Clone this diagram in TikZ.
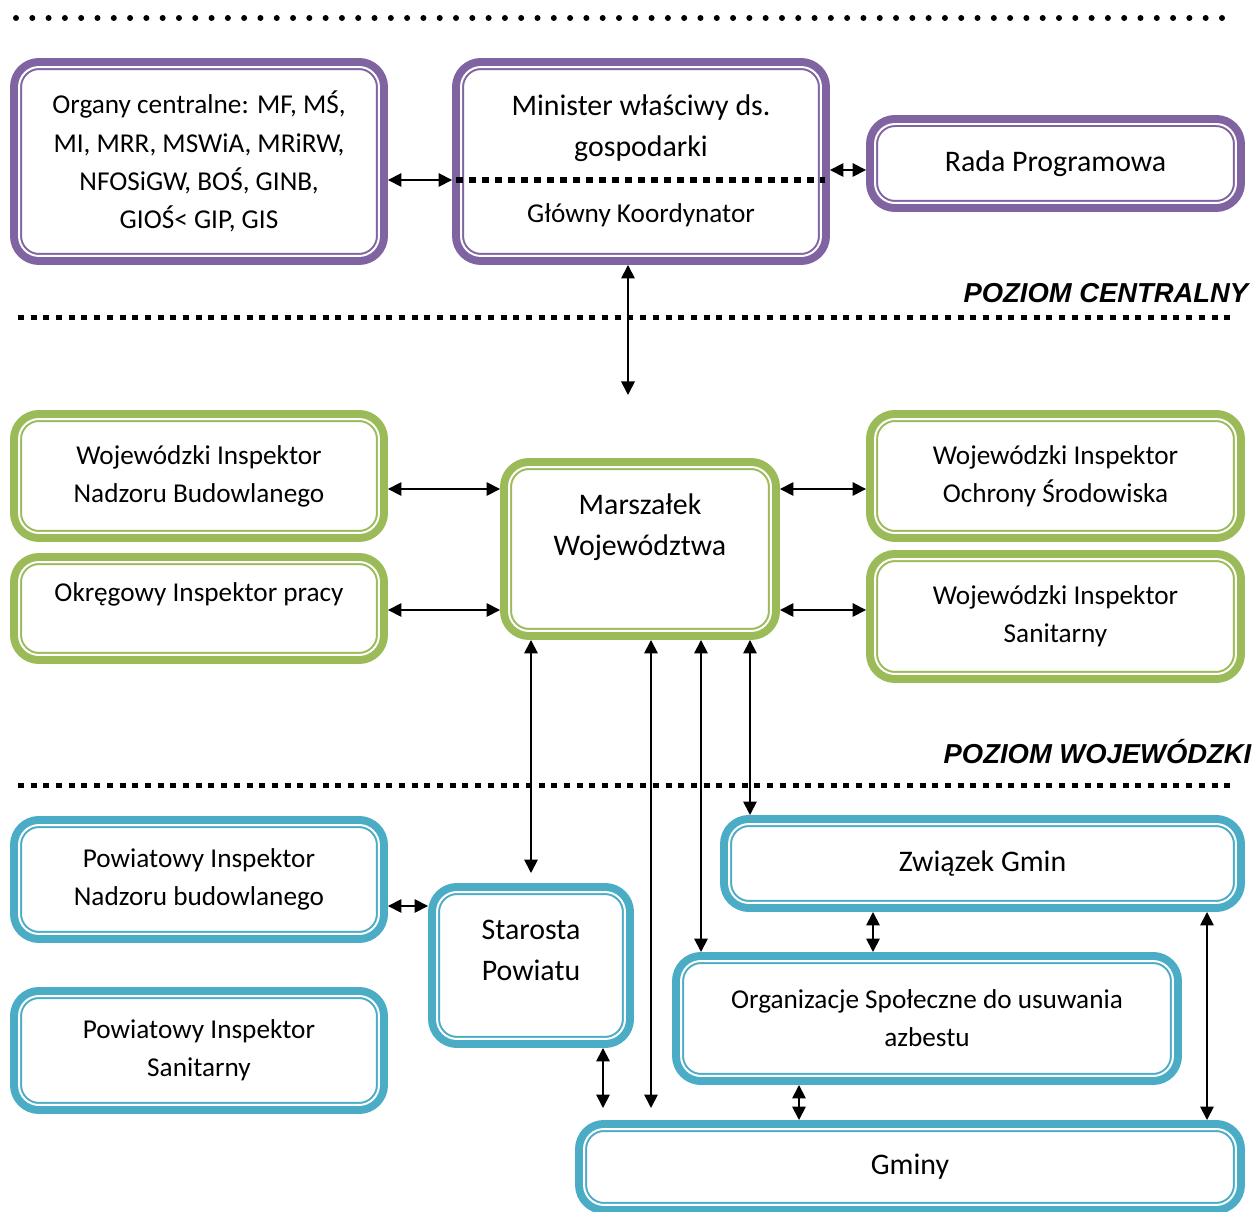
\documentclass[tikz,border=0pt]{standalone}
\usepackage{fontspec}
\setmainfont{Carlito}
\newfontfamily\headfont{Liberation Sans}
\usetikzlibrary{arrows.meta,calc}

\definecolor{fioletowy}{RGB}{128,100,162}
\definecolor{zielony}{RGB}{155,187,89}
\definecolor{niebieski}{RGB}{75,172,198}

\newcommand{\maly}{\fontsize{15.5}{21.7}\selectfont}
\newcommand{\duzy}{\fontsize{17}{23.3}\selectfont}

\begin{document}
\begin{tikzpicture}[x=0.02cm,y=-0.02cm,<->,>={Triangle[length=0.27cm,width=0.27cm]},
	line width=0.035cm,
	box/.style={rectangle,rounded corners=0.4cm,fill=white,draw=#1,
		line width=0.04cm,double=white,double distance=0.04cm,
		preaction={draw=#1,line width=0.36cm},outer sep=0.18cm,
		inner sep=0pt,align=center,font=\maly},
	central node/.style={box=fioletowy},
	regional node/.style={box=zielony},
	local node/.style={box=niebieski},
	level line/.style={-,line width=0.1cm,dash pattern=on 0.12cm off 0.134cm},
	level name/.style={anchor=east,font=\headfont\bfseries\itshape\fontsize{15.6}{18}\selectfont}]
\useasboundingbox (0,0) rectangle (1255,1212);

% poziomy
\draw[-,line width=0.12cm,line cap=round,dash pattern=on 0pt off 0.326cm] (16,18) -- (1232,18);
\draw[level line] (18,318) -- (1235,318);
\draw[level line] (18,786) -- (1235,786);
\node[level name] (centralny) at (1255,293) {POZIOM CENTRALNY};
\node[level name] (wojewodzki) at (1258,752) {POZIOM WOJEWÓDZKI};

% poziom centralny
\node[central node,minimum width=7.2cm,minimum height=3.78cm] (organy) at (199,161.5)
	{Organy centralne: MF, MŚ,\\MI, MRR, MSWiA, MRiRW,\\NFOSiGW, BOŚ, GINB,\\GIOŚ< GIP, GIS};
\node[central node,minimum width=7.2cm,minimum height=3.78cm,
	label={[name=minister,yshift=0.67cm,align=center,font=\duzy]center:Minister właściwy ds.\\gospodarki},
	label={[name=koordynator,yshift=-1.07cm,font=\maly]center:Główny Koordynator}] (gospodarka) at (641,161.5) {};
\node[central node,minimum width=7.22cm,minimum height=1.58cm,font=\duzy] (rada) at (1055.5,163.5) {Rada Programowa};
\draw[level line,line width=0.12cm,dash pattern=on 0.14cm off 0.12cm]
	($(gospodarka.west)+(4,18.5)$) -- ($(gospodarka.east)+(-5,18.5)$);
\coordinate (dol) at (628,395);

% poziom wojewodzki
\node[regional node,minimum width=7.2cm,minimum height=2.28cm] (winb) at (199,476) {Wojewódzki Inspektor\\Nadzoru Budowlanego};
\node[regional node,minimum width=7.2cm,minimum height=1.86cm,
	label={[name=oiptxt,yshift=0.29cm,font=\maly]center:Okręgowy Inspektor pracy}] (oip) at (199,608.5) {};
\node[regional node,minimum width=5.24cm,minimum height=3.28cm,
	label={[name=marszalektxt,yshift=0.44cm,align=center,font=\duzy]center:Marszałek\\Województwa}] (marszalek) at (640,549) {};
\node[regional node,minimum width=7.22cm,minimum height=2.28cm] (wios) at (1055.5,476) {Wojewódzki Inspektor\\Ochrony Środowiska};
\node[regional node,minimum width=7.22cm,minimum height=2.3cm] (wis) at (1055.5,616.5) {Wojewódzki Inspektor\\Sanitarny};

% poziom powiatowy i gminny
\node[local node,minimum width=7.2cm,minimum height=2.18cm] (pinb) at (199,879.5) {Powiatowy Inspektor\\Nadzoru budowlanego};
\node[local node,minimum width=7.2cm,minimum height=2.18cm] (pis) at (199,1050.5) {Powiatowy Inspektor\\Sanitarny};
\node[local node,minimum width=3.76cm,minimum height=2.94cm,
	label={[name=starostatxt,yshift=0.3cm,align=center,font=\duzy]center:Starosta\\Powiatu}] (starosta) at (531,965.5) {};
\node[local node,minimum width=10.14cm,minimum height=1.58cm,font=\duzy] (zwiazek) at (982.5,863.5) {Związek Gmin};
\node[local node,minimum width=9.84cm,minimum height=2.3cm] (organizacje) at (927,1018.5) {Organizacje Społeczne do usuwania\\azbestu};
\node[local node,minimum width=13.04cm,minimum height=1.52cm,font=\duzy] (gminy) at (910,1167) {Gminy};

% powiazania
\draw ($(organy.east)+(0,18.5)$) coordinate (a1) -- (a1 -| gospodarka.west);
\draw ($(rada.west)+(0,6.5)$) coordinate (a2) -- (a2 -| gospodarka.east);
\draw (gospodarka.south -| dol) -- (dol);
\draw ($(winb.east)+(0,13)$) coordinate (a3) -- (a3 -| marszalek.west);
\draw ($(oip.east)+(0,1.5)$) coordinate (a4) -- (a4 -| marszalek.west);
\draw ($(wios.west)+(0,13)$) coordinate (a5) -- (a5 -| marszalek.east);
\draw ($(wis.west)+(0,-6.5)$) coordinate (a6) -- (a6 -| marszalek.east);
\draw[shorten <=0.2cm] (starosta.north) -- (starosta.north |- marszalek.south);
\draw[shorten >=0.24cm] ($(marszalek.south)+(11,0)$) coordinate (a7) -- (a7 |- gminy.north);
\draw ($(marszalek.south)+(61,0)$) coordinate (a8) -- (a8 |- organizacje.north);
\draw ($(marszalek.south)+(110,0)$) coordinate (a9) -- (a9 |- zwiazek.north);
\draw ($(pinb.east)+(0,26.5)$) coordinate (a10) -- (a10 -| starosta.west);
\draw[shorten >=0.24cm] ($(starosta.south)+(72,0)$) coordinate (a11) -- (a11 |- gminy.north);
\draw ($(zwiazek.south)+(-109.5,0)$) coordinate (a12) -- (a12 |- organizacje.north);
\draw ($(organizacje.south)+(-128,0)$) coordinate (a13) -- (a13 |- gminy.north);
\draw ($(zwiazek.south)+(224.5,0)$) coordinate (a14) -- (a14 |- gminy.north);
\end{tikzpicture}
\end{document}
